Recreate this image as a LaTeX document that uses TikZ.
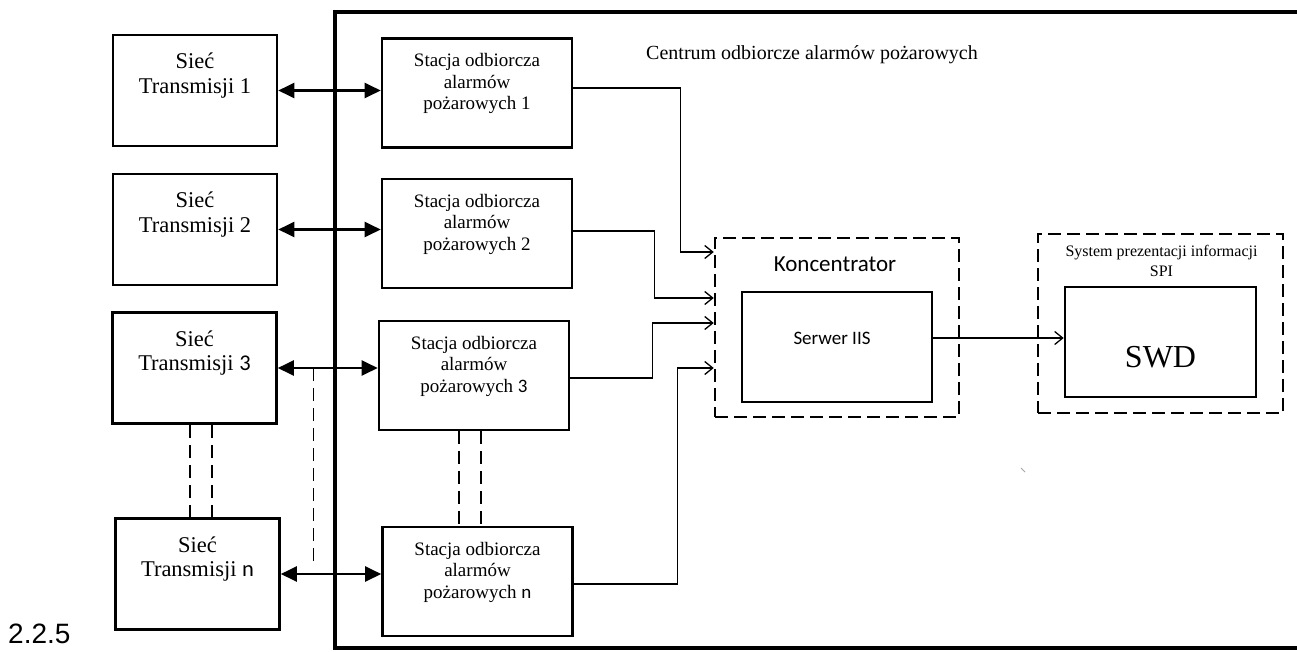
\documentclass[tikz,border=0pt]{standalone}
\usepackage{fontspec}
\setmainfont{Liberation Serif}
\newfontfamily\calib{Carlito}
\newfontfamily\arialf{Liberation Sans}
\usetikzlibrary{arrows.meta,calc}

\tikzset{
	netbox/.style={draw, line width=2.6pt, minimum width=164pt, minimum height=111pt, inner sep=0pt},
	stbox/.style={draw, line width=2.6pt, minimum width=190pt, minimum height=109pt, inner sep=0pt},
	nettxt/.style={align=center, anchor=north, inner sep=0pt, yshift=-19pt, font=\fontsize{22.5}{24.5}\selectfont},
	sttxt/.style={align=center, anchor=north, inner sep=0pt, yshift=-16pt, font=\fontsize{19}{21.5}\selectfont},
	dblarrow/.style={line width=2.2pt, {Triangle[length=16pt,width=15pt]}-{Triangle[length=16pt,width=15pt]}},
	feed/.style={line width=1.3pt, -{Straight Barb[length=8pt,width=13pt]}},
	dashbox/.style={draw, line width=2.5pt, dash pattern=on 13pt off 6pt, minimum width=244pt, minimum height=179pt, inner sep=0pt},
	innerbox/.style={draw, line width=2.6pt, minimum width=190pt, minimum height=110pt, inner sep=0pt},
	gapline/.style={line width=1.2pt, dash pattern=on 13pt off 7pt},
}

\begin{document}
\begin{tikzpicture}[x=1pt,y=-1pt]
			\path[use as bounding box, clip] (0,0) rectangle (1297,651);
			
			%Centre frame
			\draw[line width=4.2pt] (1310,12) -- (335,12) -- (335,648) -- (1310,648);
			\node[font=\fontsize{20}{24}\selectfont] (centrum) at (812,55) {Centrum odbiorcze alarmów pożarowych};
			
			%Transmission networks
			\node[netbox, label={[nettxt, name=n1t]north:{Sieć\\Transmisji 1}}] (n1) at (195,90.5) {};
			\node[netbox, label={[nettxt, name=n2t]north:{Sieć\\Transmisji 2}}] (n2) at (195,229.5) {};
			\node[netbox, label={[nettxt, name=n3t]north:{Sieć\\Transmisji {\calib 3}}}] (n3) at (194.5,368) {};
			\node[netbox, label={[nettxt, name=nnt]north:{Sieć\\Transmisji {\calib n}}}] (nn) at (197.5,574) {};
			
			%Receiving stations
			\node[stbox, label={[sttxt, name=s1t]north:{Stacja odbiorcza\\alarmów\\pożarowych 1}}] (s1) at (477,93) {};
			\node[stbox, label={[sttxt, name=s2t]north:{Stacja odbiorcza\\alarmów\\pożarowych 2}}] (s2) at (477,233.5) {};
			\node[stbox, label={[sttxt, name=s3t]north:{Stacja odbiorcza\\alarmów\\pożarowych {\calib 3}}}] (s3) at (474,375.5) {};
			\node[stbox, label={[sttxt, name=snt]north:{Stacja odbiorcza\\alarmów\\pożarowych {\calib n}}}] (sn) at (477.5,581.5) {};
			
			\draw[dblarrow] (n1.east) -- (n1.east -| s1.west);
			\draw[dblarrow] (n2.east) -- (n2.east -| s2.west);
			\draw[dblarrow] (n3.east) -- (n3.east -| s3.west);
			\draw[dblarrow] (nn.east) -- (nn.east -| sn.west);
			
			%Gaps between 3 and n
			\coordinate (g1) at ($(n3.south)+(-4.5,0)$);
			\coordinate (g2) at ($(n3.south)+(17.5,0)$);
			\coordinate (g3) at ($(s3.south)+(-15,0)$);
			\coordinate (g4) at ($(s3.south)+(7,0)$);
			\coordinate (v3) at ($(n3.east)+(36,0)$);
			\draw[gapline] (g1) -- (g1 |- nn.north);
			\draw[gapline] (g2) -- (g2 |- nn.north);
			\draw[gapline] (g3) -- (g3 |- sn.north);
			\draw[gapline] (g4) -- (g4 |- sn.north);
			\draw[gapline] (v3) -- ([yshift=6pt]v3 |- nn.east);
			
			%Koncentrator
			\node[dashbox] (konc) at (837,327.5) {};
			\node[font=\calib\fontsize{23}{27}\selectfont] (konct) at ($(konc.north)+(-2,27)$) {Koncentrator};
			\node[innerbox] (serw) at (837,347) {};
			\node[font=\calib\fontsize{19}{23}\selectfont] (serwt) at ($(serw.center)+(-5,-9)$) {Serwer IIS};
			
			\coordinate (k1) at ([yshift=75.5pt]konc.west);
			\coordinate (k2) at ([yshift=29.5pt]konc.west);
			\coordinate (k3) at ([yshift=4.5pt]konc.west);
			\coordinate (k4) at ([yshift=-40.5pt]konc.west);
			\draw[feed] ([yshift=5pt]s1.east) -- ++(107,0) |- (k1);
			\draw[feed] ([yshift=2.5pt]s2.east) -- ++(81,0) |- (k2);
			\draw[feed] ([yshift=-2.5pt]s3.east) -- ++(82,0) |- (k3);
			\draw[feed] ([yshift=-2.5pt]sn.east) -- ++(104,0) |- (k4);
			
			%SPI
			\node[dashbox, minimum width=245pt] (spi) at (1160.5,323.5) {};
			\node[align=center, anchor=north, inner sep=0pt, font=\fontsize{16}{20}\selectfont] (spit) at ($(spi.north)+(1,12)$) {System prezentacji informacji\\SPI};
			\node[innerbox, minimum width=191pt] (swd) at (1160.5,342) {};
			\node[font=\fontsize{32}{38}\selectfont] (swdt) at ($(swd.center)+(0,15)$) {SWD};
			
			\draw[feed] ([yshift=9pt]serw.east) -- ([yshift=9pt]serw.east -| swd.west);
			
			\draw[line width=1pt, gray!70] (1021,468) -- (1025,472);
			\node[font=\arialf\fontsize{28}{32}\selectfont, anchor=base west, inner sep=0pt] (fig) at (8,643) {2.2.5};
		\end{tikzpicture}
\end{document}
